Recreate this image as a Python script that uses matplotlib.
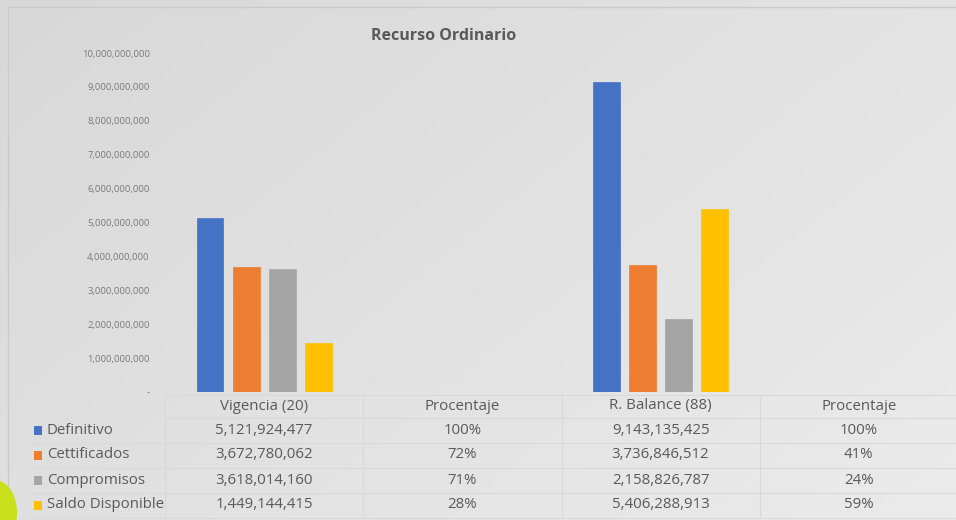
import numpy as np
import matplotlib
matplotlib.use("Agg")
import matplotlib.pyplot as plt
from matplotlib.patches import Rectangle, Ellipse
from matplotlib.colors import LinearSegmentedColormap
from matplotlib.transforms import blended_transform_factory

# ---- data ----
categories = ["Vigencia (20)", "Procentaje", "R. Balance (88)", "Procentaje"]
series_names = ["Definitivo", "Cettificados", "Compromisos", "Saldo Disponible"]
definitivo = [5121924477, 1.00, 9143135425, 1.00]
certificados = [3672780062, 0.72, 3736846512, 0.41]
compromisos = [3618014160, 0.71, 2158826787, 0.24]
saldo = [1449144415, 0.28, 5406288913, 0.59]
table_text = [
    ["5,121,924,477", "100%", "9,143,135,425", "100%"],
    ["3,672,780,062", "72%", "3,736,846,512", "41%"],
    ["3,618,014,160", "71%", "2,158,826,787", "24%"],
    ["1,449,144,415", "28%", "5,406,288,913", "59%"],
]
yticks = [0, 1e9, 2e9, 3e9, 4e9, 5e9, 6e9, 7e9, 8e9, 9e9, 1e10]
colors = ["#4472C4", "#ED7D31", "#A5A5A5", "#FFC000"]
title = "Recurso Ordinario"

plt.rcParams['font.family'] = ['Open Sans', 'DejaVu Sans']
W, H = 956, 520
fig = plt.figure(figsize=(W / 100, H / 100), dpi=100)

# background gradient
bg = fig.add_axes([0, 0, 1, 1], zorder=-10)
gx = np.linspace(0, 1, 200)
gy = np.linspace(0, 1, 100)
GX, GY = np.meshgrid(gx, gy)
grad = 0.6 * GX + 0.4 * (1 - GY)
cmap = LinearSegmentedColormap.from_list("g", ["#d8d8d8", "#ebebeb"])
bg.imshow(grad, cmap=cmap, aspect="auto", extent=[0, 1, 0, 1], origin="lower")
bg.set_xlim(0, 1); bg.set_ylim(0, 1); bg.axis("off")
bg.add_patch(Rectangle((8 / W, -0.01), 1.1, 1 - 7 / H + 0.01, fill=False,
                       edgecolor="#cacaca", lw=1.0))
bg.add_patch(Ellipse((-5 / W, 1 - 513 / H), 44 / W, 66 / H, facecolor="#c8e01c",
                     edgecolor="none"))

# main axes: px 165..958 horizontally, 53..392 vertically
x0, x1 = 165, 958
ytop, ybot = 53, 392
ax = fig.add_axes([x0 / W, 1 - ybot / H, (x1 - x0) / W, (ybot - ytop) / H])
ax.patch.set_alpha(0)
n = len(categories)
xs = np.arange(n)
bw = 0.136
step = 0.182
all_series = [definitivo, certificados, compromisos, saldo]
for i, (vals, c) in enumerate(zip(all_series, colors)):
    ax.bar(xs + (i - 1.5) * step, vals, width=bw, color=c, edgecolor=c, lw=0.5)
ax.set_xlim(-0.5, n - 0.5)
ax.set_ylim(0, 1e10)
ax.set_yticks(yticks)
ax.set_yticklabels(["-"] + [f"{int(v):,}" for v in yticks[1:]],
                   fontsize=6.8, color="#7a7a7a")
ax.tick_params(axis="y", length=0, pad=11)
ax.set_xticks([])
for s in ax.spines.values():
    s.set_visible(False)

fig.text(444 / W, 1 - 36 / H, title, ha="center", va="center",
         fontsize=11.5, fontweight="bold", color="#595959")

# data table
tr = blended_transform_factory(ax.transData, fig.transFigure)
def fy(py):
    return 1 - py / H
line_c = "#d9d9d9"
row_lines = [395, 418, 443, 468, 493, 518]
for py in row_lines:
    fig.add_artist(plt.Line2D([x0 / W if py in (395, 418) else 28 / W, 1], [fy(py), fy(py)],
                              color=line_c, lw=0.8))
for k in range(n + 1):
    xv = k - 0.5
    fig.add_artist(plt.Line2D([xv, xv], [fy(395), fy(518)], color=line_c, lw=0.8,
                              transform=tr))

txt_c = "#595959"
fs = 10.8
for k, cat in enumerate(categories):
    fig.text(k, fy(406), cat, transform=tr, ha="center", va="center",
             fontsize=fs, color=txt_c)
row_y = [430, 455, 480, 505]
for r, name in enumerate(series_names):
    fig.add_artist(Rectangle((34 / W, fy(row_y[r] + 4.5)), 8 / W, 9 / H,
                             facecolor=colors[r], edgecolor="none",
                             transform=fig.transFigure))
    fig.text(47 / W, fy(row_y[r]), name, ha="left", va="center",
             fontsize=fs, color=txt_c)
    for k in range(n):
        fig.text(k, fy(row_y[r]), table_text[r][k], transform=tr, ha="center",
                 va="center", fontsize=fs, color=txt_c)

fig.savefig("out.png", dpi=100)
